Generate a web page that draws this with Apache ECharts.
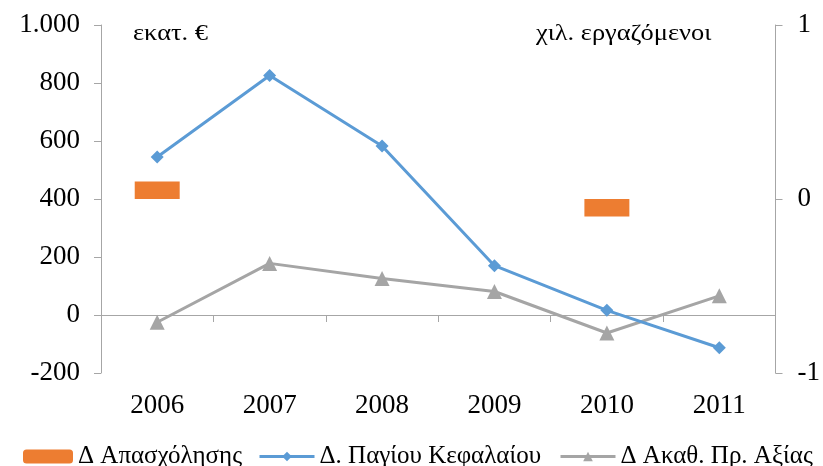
<!DOCTYPE html>
<html>
<head>
<meta charset="utf-8">
<script src="https://cdn.jsdelivr.net/npm/echarts@6/dist/echarts.min.js"></script>
<style>
html,body{margin:0;padding:0;background:#fff;}
#c{width:823px;height:466px;}
</style>
</head>
<body>
<div id="c"></div>
<script>
const years = ['2006','2007','2008','2009','2010','2011'];
const employment = [0.1, 0, 0, 0, -0.1, 0];
const fixedCapital = [545, 826, 583, 170, 16, -113];
const grossValueAdded = [-25, 178, 126, 81, -62, 66];
const leftTicks = [-200, 0, 200, 400, 600, 800, 1000];
const rightTicks = [-1, 0, 1];
const seriesNames = ['Δ Απασχόλησης', 'Δ. Παγίου Κεφαλαίου', 'Δ Ακαθ. Πρ. Αξίας'];
const leftUnit = 'εκατ. €';
const rightUnit = 'χιλ. εργαζόμενοι';

const FONT = '"Liberation Serif", "Times New Roman", serif';
const axisGray = '#A6A6A6';
const legendText = {fontFamily: FONT, fontSize: 25, color: '#000'};

const chart = echarts.init(document.getElementById('c'), null, {renderer: 'canvas'});
chart.setOption({
  animation: false,
  backgroundColor: '#fff',
  grid: {left: 101, right: 46, top: 25, bottom: 93, containLabel: false},
  legend: [
    {data: [seriesNames[0]], left: 18, top: 439, itemWidth: 50, itemHeight: 14, itemGap: 0, textStyle: legendText},
    {data: [seriesNames[1]], left: 253, top: 439, itemWidth: 55, itemHeight: 12, itemGap: 0, textStyle: legendText, lineStyle: {width: 3}},
    {data: [seriesNames[2]], left: 554, top: 439, itemWidth: 55, itemHeight: 12, itemGap: 0, textStyle: legendText, lineStyle: {width: 3}}
  ],
  xAxis: [
    {
      type: 'category', data: years, position: 'bottom',
      axisLine: {show: false, onZero: false},
      axisTick: {show: false},
      axisLabel: {fontFamily: FONT, fontSize: 27, color: '#000', margin: 19}
    },
    {
      type: 'category', data: years, position: 'top',
      axisLine: {show: true, onZero: true, onZeroAxisIndex: 0, lineStyle: {color: axisGray, width: 1}},
      axisTick: {show: true, inside: true, length: 7, lineStyle: {color: axisGray}},
      axisLabel: {show: false}
    }
  ],
  yAxis: [
    {
      type: 'value', min: -200, max: 1000, interval: 200, position: 'left',
      splitLine: {show: false},
      axisLine: {show: true, lineStyle: {color: axisGray}},
      axisTick: {show: true, length: 7, lineStyle: {color: axisGray}},
      axisLabel: {
        fontFamily: FONT, fontSize: 27, color: '#000', margin: 21,
        formatter: v => leftTicks.includes(v) ? String(v).replace(/\B(?=(\d{3})+(?!\d))/g, '.') : ''
      }
    },
    {
      type: 'value', min: -1, max: 1, interval: 1, position: 'right',
      splitLine: {show: false},
      axisLine: {show: true, lineStyle: {color: axisGray}},
      axisTick: {show: true, length: 7, lineStyle: {color: axisGray}},
      axisLabel: {
        fontFamily: FONT, fontSize: 27, color: '#000', margin: 22,
        formatter: v => rightTicks.includes(v) ? String(v) : ''
      }
    }
  ],
  series: [
    {
      name: seriesNames[0], type: 'bar', xAxisIndex: 0, yAxisIndex: 1,
      data: employment, barWidth: '40%',
      itemStyle: {color: '#ED7D31'}, z: 1
    },
    {
      name: seriesNames[1], type: 'line', xAxisIndex: 0, yAxisIndex: 0,
      data: fixedCapital, symbol: 'diamond', symbolSize: 13, showSymbol: true,
      lineStyle: {color: '#5B9BD5', width: 3}, itemStyle: {color: '#5B9BD5'}, z: 3
    },
    {
      name: seriesNames[2], type: 'line', xAxisIndex: 0, yAxisIndex: 0,
      data: grossValueAdded, symbol: 'triangle', symbolSize: 15, showSymbol: true,
      lineStyle: {color: '#A5A5A5', width: 3}, itemStyle: {color: '#A5A5A5'}, z: 2
    }
  ],
  graphic: [
    {type: 'text', x: 133, y: 22, scaleX: 1.1, style: {text: leftUnit, font: '24px ' + FONT, fill: '#000'}},
    {type: 'text', x: 536, y: 22, scaleX: 1.1, style: {text: rightUnit, font: '24px ' + FONT, fill: '#000'}}
  ]
});
</script>
</body>
</html>
